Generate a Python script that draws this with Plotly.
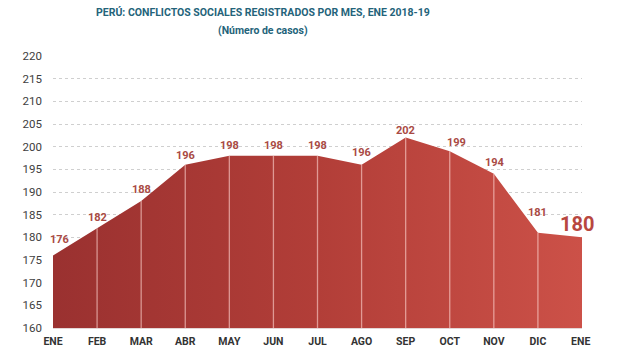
import plotly.graph_objects as go

months = ["ENE", "FEB", "MAR", "ABR", "MAY", "JUN", "JUL", "AGO", "SEP", "OCT", "NOV", "DIC", "ENE "]
values = [176, 182, 188, 196, 198, 198, 198, 196, 202, 199, 194, 181, 180]
y_ticks = list(range(160, 221, 5))

title_text = "PERÚ: CONFLICTOS SOCIALES REGISTRADOS POR MES, ENE 2018-19"
subtitle_text = "(Número de casos)"

# label offsets (style, per point)
label_dx = [6, 0, 0, 0, 0, 0, 0, 0, 0, 7, 1, 0, -5]
label_dy = [16, 11, 12, 9, 10, 10, 10, 12, 7, 9, 11, 20, 13]

FONT = "Roboto, Open Sans, sans-serif"
xs = list(range(len(months)))

fig = go.Figure()
fig.add_trace(go.Scatter(
    x=xs, y=values, mode="none", fill="tozeroy",
    fillgradient=dict(type="horizontal",
                      colorscale=[[0, "#9a3130"], [0.5, "#b23e38"], [1, "#cc5148"]]),
    hoverinfo="skip", showlegend=False,
))
vx, vy = [], []
for i in range(1, len(values) - 1):
    vx += [xs[i], xs[i], None]
    vy += [160, values[i], None]
fig.add_trace(go.Scatter(x=vx, y=vy, mode="lines",
                         line=dict(color="rgba(255,215,210,0.6)", width=1.3),
                         hoverinfo="skip", showlegend=False))

for i, v in enumerate(values):
    last = i == len(values) - 1
    fig.add_annotation(x=xs[i], y=v, text=f"<b>{v}</b>", showarrow=False,
                       xshift=label_dx[i], yshift=label_dy[i], yanchor="middle",
                       font=dict(family=FONT, size=20 if last else 11,
                                 color="#b8473f" if last else "#a94a44"))

fig.add_annotation(xref="paper", yref="paper", x=0.397, y=1.0, yshift=44,
                   text=f"<b>{title_text}</b>", showarrow=False, yanchor="middle",
                   font=dict(family=FONT, size=10.5, color="#24637a"))
fig.add_annotation(xref="paper", yref="paper", x=0.397, y=1.0, yshift=26,
                   text=f"<b>{subtitle_text}</b>", showarrow=False, yanchor="middle",
                   font=dict(family=FONT, size=10.5, color="#24637a"))

fig.update_layout(
    width=617, height=351,
    margin=dict(l=53, r=35, t=56, b=23),
    paper_bgcolor="white", plot_bgcolor="white",
    font=dict(family=FONT),
)
fig.update_xaxes(range=[0, 12], tickvals=xs, ticktext=[f"<b>{m}</b>" for m in months],
                 showgrid=False, zeroline=False, showline=True, linecolor="#e3d6d6",
                 linewidth=1, tickfont=dict(family=FONT, size=10.5, color="#333333"),
                 ticks="", ticklabelstandoff=3, automargin=False)
fig.update_yaxes(range=[160, 220], tickvals=y_ticks, showgrid=True, gridcolor="#cfcfcf",
                 griddash="dot", gridwidth=1, zeroline=False, showline=False,
                 tickfont=dict(family=FONT, size=11.5, color="#404040"),
                 ticks="", ticklabelstandoff=10, automargin=False)

fig.write_html("out.html")
